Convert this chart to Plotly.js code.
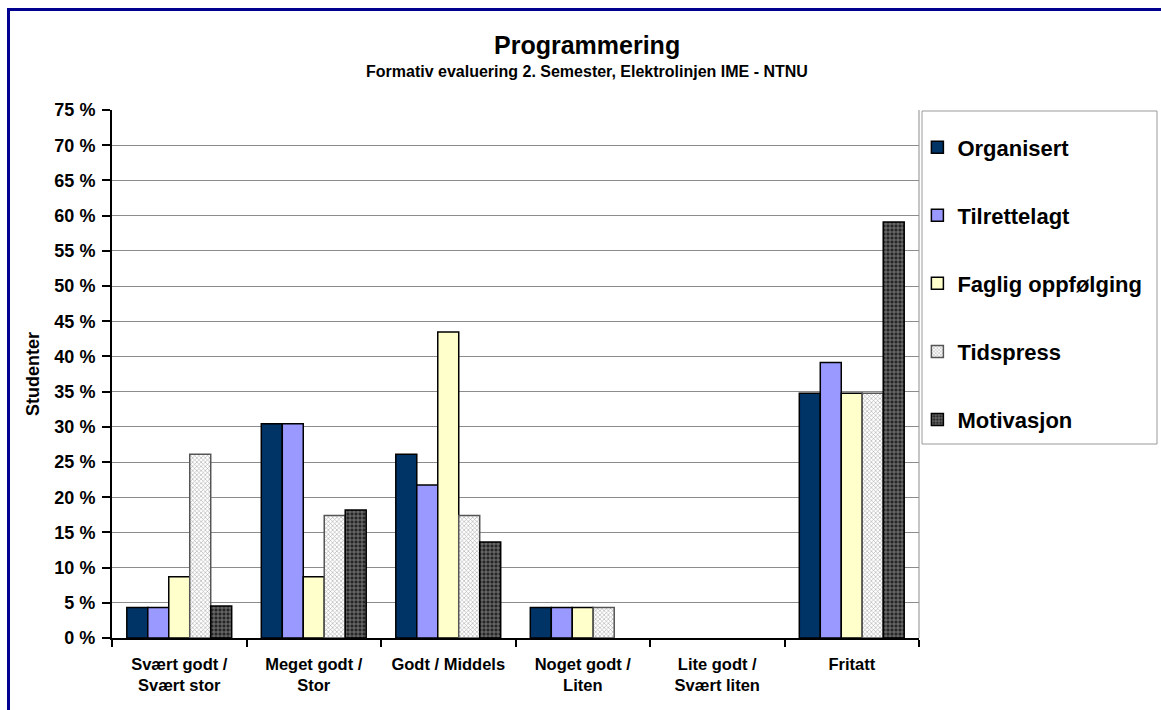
<!DOCTYPE html>
<html><head><meta charset="utf-8">
<script src="https://cdn.plot.ly/plotly-3.0.1.min.js"></script>
<style>
html,body{margin:0;padding:0;background:#fff;overflow:hidden}
#chart{width:1161px;height:710px;position:absolute;left:0;top:0}
#frame{position:absolute;left:7px;top:8px;width:1200px;height:800px;border:3px solid #000090;pointer-events:none}
</style></head>
<body>
<div id="chart"></div>
<div id="frame"></div>
<script>
const categories = ["Svært godt /<br>Svært stor","Meget godt /<br>Stor","Godt / Middels","Noget godt /<br>Liten","Lite godt /<br>Svært liten","Fritatt"];
const seriesNames = ["Organisert","Tilrettelagt","Faglig oppfølging","Tidspress","Motivasjon"];
const organisert = [4.35, 30.43, 26.09, 4.35, 0, 34.78];
const tilrettelagt = [4.35, 30.43, 21.74, 4.35, 0, 39.13];
const fagligOppfolging = [8.70, 8.70, 43.48, 4.35, 0, 34.78];
const tidspress = [26.09, 17.39, 17.39, 4.35, 0, 34.78];
const motivasjon = [4.55, 18.18, 13.64, 0, 0, 59.09];
const yTicks = [0,5,10,15,20,25,30,35,40,45,50,55,60,65,70,75];

const FONT = "Arial, 'Liberation Sans', sans-serif";
const values = [organisert, tilrettelagt, fagligOppfolging, tidspress, motivasjon];
const styles = [
  {color:"#003366", line:"#000000"},
  {color:"#9999FF", line:"#000000"},
  {color:"#FFFFCC", line:"#000000"},
  {color:"#FFFFFF", line:"#555555", pattern:{shape:"x", fgcolor:"#a8a8a8", bgcolor:"#ffffff", size:3, solidity:0.35}},
  {color:"#333333", line:"#000000", pattern:{shape:"+", fgcolor:"#9a9a9a", bgcolor:"#262626", size:4, solidity:0.3}}
];
const traces = seriesNames.map((n,i)=>{
  const m = {color: styles[i].color, line:{color: styles[i].line, width:1.5}};
  if (styles[i].pattern) m.pattern = Object.assign({fillmode:"replace"}, styles[i].pattern);
  return {type:"bar", name:n, x:categories, y:values[i].map(v => v === 0 ? null : v), marker:m, legendgroup:"g"+i, hoverinfo:"y+name"};
});

const layout = {
  width:1161, height:710,
  margin:{l:112, r:242, t:110, b:72, autoexpand:false},
  paper_bgcolor:"#ffffff", plot_bgcolor:"#ffffff",
  font:{family:FONT, color:"#000"},
  barmode:"group", bargap:0.22, bargroupgap:0,
  showlegend:true,
  legend:{x:0.998, xanchor:"left", y:0.969, yanchor:"top", traceorder:"grouped", tracegroupgap:36.5,
          font:{family:FONT, size:22, color:"#000", weight:"bold"}, bgcolor:"rgba(0,0,0,0)", borderwidth:0},
  xaxis:{type:"category", showgrid:false, showline:true, linecolor:"#000", linewidth:2,
         ticks:"outside", tickson:"boundaries", ticklen:7, tickwidth:2, tickcolor:"#000", ticklabelstandoff:10,
         tickfont:{family:FONT, size:16.5, color:"#000", weight:"bold"}, automargin:false, fixedrange:true},
  yaxis:{range:[0,75], tickvals:yTicks, ticktext:yTicks.map(v=>v+" %"), showgrid:true, gridcolor:"#8c8c8c", gridwidth:1,
         showline:true, linecolor:"#000", linewidth:2, ticks:"outside", ticklen:8, tickwidth:2, tickcolor:"#000", ticklabelstandoff:3,
         tickfont:{family:FONT, size:18, color:"#000", weight:"bold"}, zeroline:false, automargin:false, fixedrange:true,
         title:{text:"Studenter", font:{family:FONT, size:18, color:"#000", weight:"bold"}, standoff:10}},
  shapes:[
    {type:"line", xref:"paper", yref:"paper", x0:1, x1:1, y0:0, y1:1, line:{color:"#8c8c8c", width:1}},
    {type:"rect", xref:"paper", yref:"paper", x0:(922-112)/807, x1:(1157-112)/807, y0:(638-444)/528, y1:(638-111)/528, line:{color:"#999999", width:1}, fillcolor:"rgba(0,0,0,0)"}
  ],
  annotations:[
    {text:"Programmering", xref:"paper", yref:"paper", x:(587-112)/807, y:(638-45)/528, xanchor:"center", yanchor:"middle", showarrow:false,
     font:{family:FONT, size:25, color:"#000", weight:"bold"}},
    {text:"Formativ evaluering 2. Semester, Elektrolinjen IME - NTNU", xref:"paper", yref:"paper", x:(587-112)/807, y:(638-72)/528, xanchor:"center", yanchor:"middle", showarrow:false,
     font:{family:FONT, size:16, color:"#000", weight:"bold"}}
  ]
};
Plotly.newPlot("chart", traces, layout, {displayModeBar:false, staticPlot:true});
</script>
</body></html>
